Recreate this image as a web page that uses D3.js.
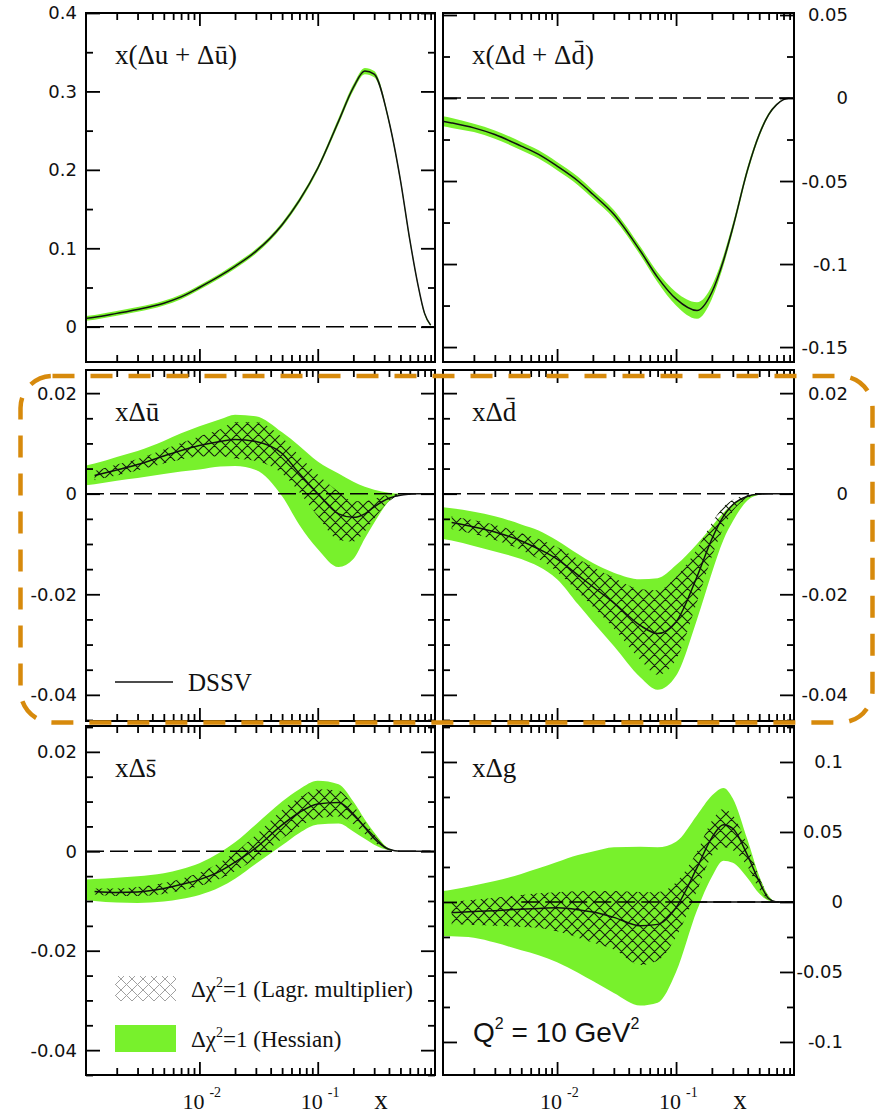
<!DOCTYPE html>
<html>
<head>
<meta charset="utf-8">
<script src="https://cdn.jsdelivr.net/npm/d3@7"></script>
<style>
  body { margin: 0; background: #fff; }
  .tick-label { font-family: "DejaVu Sans", sans-serif; font-size: 18px; fill: #111; }
  .title { font-family: "Liberation Serif", serif; font-size: 27px; fill: #111; }
  .serif { font-family: "Liberation Serif", serif; fill: #111; }
</style>
</head>
<body>
<svg id="chart" width="876" height="1116"></svg>
<script>
// x grid shared by every curve (log x)
const xDomain = [0.0011, 0.98];
const xGrid = [0.0011, 0.0013, 0.002, 0.003, 0.005, 0.007, 0.01, 0.015, 0.02, 0.03, 0.05, 0.07,
  0.1, 0.15, 0.2, 0.25, 0.3, 0.4, 0.5, 0.6, 0.7, 0.8, 0.9];

// x(Δu + Δū)
const uCenter = [0.0106, 0.012, 0.017, 0.022, 0.030, 0.038, 0.050, 0.065, 0.077, 0.096, 0.130, 0.161,
  0.202, 0.262, 0.305, 0.326, 0.322, 0.262, 0.187, 0.111, 0.055, 0.017, 0.002];
const uHessHi = [0.0136, 0.015, 0.020, 0.025, 0.033, 0.041, 0.053, 0.068, 0.080, 0.099, 0.133, 0.164,
  0.205, 0.266, 0.309, 0.330, 0.326, 0.265, 0.190, 0.114, 0.057, 0.019, 0.003];
const uHessLo = [0.0076, 0.009, 0.014, 0.019, 0.027, 0.035, 0.047, 0.062, 0.074, 0.093, 0.127, 0.158,
  0.199, 0.258, 0.301, 0.322, 0.318, 0.259, 0.184, 0.108, 0.053, 0.015, 0.001];

// x(Δd + Δd̄)
const dCenter = [-0.014, -0.015, -0.018, -0.022, -0.029, -0.034, -0.041, -0.050, -0.058, -0.070, -0.092, -0.108,
  -0.121, -0.128, -0.117, -0.098, -0.078, -0.043, -0.022, -0.010, -0.004, -0.001, 0];
const dHessHi = [-0.011, -0.012, -0.0155, -0.0195, -0.0265, -0.0315, -0.0385, -0.0475, -0.0555, -0.0675, -0.0895, -0.105,
  -0.117, -0.123, -0.113, -0.095, -0.0755, -0.041, -0.0205, -0.009, -0.0035, -0.0008, 0];
const dHessLo = [-0.017, -0.018, -0.0205, -0.0245, -0.0315, -0.0365, -0.0435, -0.0525, -0.0605, -0.0725, -0.0945, -0.111,
  -0.125, -0.133, -0.121, -0.101, -0.0805, -0.045, -0.0235, -0.011, -0.0045, -0.0012, 0];

// xΔū
const ubCenter = [null, 0.0036, 0.0047, 0.0058, 0.0075, 0.0086, 0.0096, 0.0104, 0.0108, 0.0104, 0.0080, 0.0040,
  0.0000, -0.0040, -0.0047, -0.0040, -0.0026, -0.0009, -0.0003, -0.0001, 0, 0, 0];
const ubHessHi = [0.0056, 0.0060, 0.0073, 0.0085, 0.0105, 0.0120, 0.0134, 0.0148, 0.0157, 0.0154, 0.0122, 0.0095,
  0.0064, 0.0040, 0.0024, 0.0014, 0.0008, 0.0002, 0, 0, 0, 0, 0];
const ubHessLo = [0.0017, 0.0019, 0.0026, 0.0031, 0.0039, 0.0044, 0.0048, 0.0054, 0.0055, 0.0047, -0.0005, -0.0062,
  -0.0110, -0.0146, -0.0130, -0.0089, -0.0058, -0.0015, -0.0001, 0, 0, 0, 0];
const ubLagrHi = [null, 0.0045, 0.0058, 0.0069, 0.0088, 0.0101, 0.0114, 0.0128, 0.0142, 0.0142, 0.0112, 0.0075,
  0.0038, 0.0004, -0.0015, -0.0015, -0.0010, -0.0002, 0, 0, 0, 0, 0];
const ubLagrLo = [null, 0.0027, 0.0036, 0.0046, 0.0060, 0.0068, 0.0074, 0.0074, 0.0070, 0.0065, 0.0040, 0.0003,
  -0.0045, -0.0092, -0.0095, -0.0075, -0.0050, -0.0015, -0.0003, 0, 0, 0, 0];

// xΔd̄
const dbCenter = [null, -0.0057, -0.0066, -0.0076, -0.0094, -0.0110, -0.0130, -0.0162, -0.0185, -0.0217, -0.0262, -0.0278,
  -0.0255, -0.0165, -0.0090, -0.0045, -0.0022, -0.0005, -0.0001, 0, 0, 0, 0];
const dbHessHi = [-0.0027, -0.0029, -0.0036, -0.0045, -0.0061, -0.0073, -0.0093, -0.0120, -0.0138, -0.0157, -0.0170, -0.0168,
  -0.0142, -0.0100, -0.0065, -0.0038, -0.0020, -0.0004, 0, 0, 0, 0, 0];
const dbHessLo = [-0.0090, -0.0093, -0.0104, -0.0115, -0.0130, -0.0145, -0.0170, -0.0220, -0.0255, -0.0303, -0.0365, -0.0390,
  -0.0362, -0.0250, -0.0157, -0.0092, -0.0055, -0.0013, -0.0002, 0, 0, 0, 0];
const dbLagrHi = [null, -0.0045, -0.0053, -0.0062, -0.0078, -0.0090, -0.0106, -0.0130, -0.0146, -0.0167, -0.0190, -0.0192,
  -0.0165, -0.0110, -0.0058, -0.0026, -0.0012, -0.0002, 0, 0, 0, 0, 0];
const dbLagrLo = [null, -0.0070, -0.0080, -0.0092, -0.0112, -0.0130, -0.0155, -0.0195, -0.0225, -0.0268, -0.0330, -0.0360,
  -0.0330, -0.0215, -0.0125, -0.0068, -0.0035, -0.0009, -0.0001, 0, 0, 0, 0];

// xΔs̄
const sbCenter = [null, -0.0081, -0.0083, -0.0082, -0.0075, -0.0067, -0.0057, -0.0040, -0.0022, 0.0007, 0.0053, 0.0078,
  0.0095, 0.0098, 0.0075, 0.0048, 0.0026, 0.0004, 0, 0, 0, 0, 0];
const sbHessHi = [-0.0057, -0.0056, -0.0053, -0.0050, -0.0044, -0.0036, -0.0024, -0.0002, 0.0018, 0.0054, 0.0100, 0.0125,
  0.0142, 0.0135, 0.0100, 0.0064, 0.0038, 0.0006, 0, 0, 0, 0, 0];
const sbHessLo = [-0.0098, -0.0100, -0.0103, -0.0104, -0.0101, -0.0096, -0.0088, -0.0072, -0.0055, -0.0025, 0.0012, 0.0037,
  0.0054, 0.0056, 0.0040, 0.0025, 0.0013, 0.0002, 0, 0, 0, 0, 0];
const sbLagrHi = [null, -0.0075, -0.0075, -0.0072, -0.0064, -0.0055, -0.0043, -0.0022, -0.0002, 0.0033, 0.0083, 0.0108,
  0.0125, 0.0122, 0.0092, 0.0060, 0.0034, 0.0005, 0, 0, 0, 0, 0];
const sbLagrLo = [null, -0.0087, -0.0090, -0.0090, -0.0086, -0.0079, -0.0070, -0.0055, -0.0040, -0.0015, 0.0025, 0.0050,
  0.0066, 0.0070, 0.0055, 0.0035, 0.0018, 0.0003, 0, 0, 0, 0, 0];

// xΔg
const gCenter = [null, -0.0076, -0.0068, -0.0062, -0.0052, -0.0046, -0.0042, -0.0055, -0.0072, -0.0110, -0.0170, -0.0160,
  -0.0040, 0.0245, 0.0460, 0.0552, 0.0525, 0.0330, 0.0145, 0.0025, 0, 0, 0];
const gHessHi = [0.0079, 0.0088, 0.0118, 0.0150, 0.0200, 0.0240, 0.0285, 0.0335, 0.0360, 0.0390, 0.0395, 0.0390,
  0.0430, 0.0620, 0.0760, 0.0815, 0.0740, 0.0440, 0.0185, 0.0045, 0, 0, 0];
const gHessLo = [-0.0243, -0.0245, -0.0255, -0.0290, -0.0345, -0.0380, -0.0430, -0.0505, -0.0565, -0.0650, -0.0740, -0.0720,
  -0.0500, -0.0060, 0.0180, 0.0295, 0.0280, 0.0170, 0.0060, 0.0010, 0, 0, 0];
const gLagrHi = [null, 0.0000, 0.0015, 0.0030, 0.0050, 0.0062, 0.0070, 0.0076, 0.0078, 0.0079, 0.0072, 0.0070,
  0.0140, 0.0360, 0.0580, 0.0665, 0.0620, 0.0400, 0.0180, 0.0040, 0, 0, 0];
const gLagrLo = [null, -0.0160, -0.0165, -0.0170, -0.0178, -0.0185, -0.0210, -0.0255, -0.0290, -0.0340, -0.0450, -0.0420,
  -0.0250, 0.0080, 0.0330, 0.0390, 0.0370, 0.0250, 0.0090, 0.0015, 0, 0, 0];

// y tick labels of each panel
const yTicksA = [0, 0.1, 0.2, 0.3, 0.4];
const yTicksB = [0.05, 0, -0.05, -0.1, -0.15];
const yTicksSea = [0.02, 0, -0.02, -0.04];
const yTicksG = [0.1, 0.05, 0, -0.05, -0.1];
const xLabelTicks = [0.01, 0.1];
const xLabelExp = ['-2', '-1'];

const GREEN = '#78f12c';
const ORANGE = '#d78a0c';

const cols = [[86, 435], [443, 794]];
const rows = [[13, 362], [370, 721], [726, 1075]];

const panels = [
  { col: 0, row: 0, yDomain: [-0.045, 0.4], ticks: yTicksA, minorStep: 0.05, title: 'x(\u0394u + \u0394u\u0304)',
    center: uCenter, hessHi: uHessHi, hessLo: uHessLo },
  { col: 1, row: 0, yDomain: [-0.159, 0.0512], ticks: yTicksB, minorStep: 0.025, title: 'x(\u0394d + \u0394d\u0304)',
    center: dCenter, hessHi: dHessHi, hessLo: dHessLo },
  { col: 0, row: 1, yDomain: [-0.0452, 0.0246], ticks: yTicksSea, minorStep: 0.005, title: 'x\u0394u\u0304',
    center: ubCenter, hessHi: ubHessHi, hessLo: ubHessLo, lagrHi: ubLagrHi, lagrLo: ubLagrLo },
  { col: 1, row: 1, yDomain: [-0.0452, 0.0246], ticks: yTicksSea, minorStep: 0.005, title: 'x\u0394d\u0304',
    center: dbCenter, hessHi: dbHessHi, hessLo: dbHessLo, lagrHi: dbLagrHi, lagrLo: dbLagrLo },
  { col: 0, row: 2, yDomain: [-0.045, 0.0252], ticks: yTicksSea, minorStep: 0.005, title: 'x\u0394s\u0304',
    center: sbCenter, hessHi: sbHessHi, hessLo: sbHessLo, lagrHi: sbLagrHi, lagrLo: sbLagrLo },
  { col: 1, row: 2, yDomain: [-0.1236, 0.1257], ticks: yTicksG, minorStep: 0.025, title: 'x\u0394g',
    center: gCenter, hessHi: gHessHi, hessLo: gHessLo, lagrHi: gLagrHi, lagrLo: gLagrLo, zeroFrom: 0.005, solidFrom: 0.13 }
];

const svg = d3.select('#chart');
const defs = svg.append('defs');

function addHatch(id, color, w) {
  const p = defs.append('pattern').attr('id', id)
    .attr('patternUnits', 'userSpaceOnUse').attr('width', 11).attr('height', 11);
  p.append('path')
    .attr('d', 'M0,0L11,11M-1,10L1,12M10,-1L12,1M11,0L0,11M-1,1L1,-1M10,12L12,10')
    .attr('stroke', color).attr('stroke-width', w).attr('fill', 'none');
}
addHatch('hatch', '#14200c', 1.1);
addHatch('hatchLight', '#a0a0a0', 1);

panels.forEach((p, i) => {
  const [x0, x1] = cols[p.col];
  const [y0, y1] = rows[p.row];
  const x = d3.scaleLog().domain(xDomain).range([x0, x1]);
  const y = d3.scaleLinear().domain(p.yDomain).range([y1, y0]);
  const g = svg.append('g');

  defs.append('clipPath').attr('id', 'clip' + i)
    .append('rect').attr('x', x0).attr('y', y0).attr('width', x1 - x0).attr('height', y1 - y0);
  const body = g.append('g').attr('clip-path', `url(#clip${i})`);

  const band = (hi, lo) => d3.area()
    .defined((d, j) => hi[j] != null)
    .x(d => x(d))
    .y0((d, j) => y(lo[j]))
    .y1((d, j) => y(hi[j]))
    .curve(d3.curveMonotoneX);

  body.append('path').datum(xGrid).attr('d', band(p.hessHi, p.hessLo)).attr('fill', GREEN);
  if (p.lagrHi) {
    body.append('path').datum(xGrid).attr('d', band(p.lagrHi, p.lagrLo)).attr('fill', 'url(#hatch)');
  }

  // zero line
  const zx0 = p.zeroFrom ? x(p.zeroFrom) : x0;
  body.append('line').attr('x1', zx0).attr('x2', x1).attr('y1', y(0)).attr('y2', y(0))
    .attr('stroke', '#000').attr('stroke-width', 1.6).attr('stroke-dasharray', '18,6');
  if (p.solidFrom) {
    body.append('line').attr('x1', x(p.solidFrom)).attr('x2', x1).attr('y1', y(0)).attr('y2', y(0))
      .attr('stroke', '#000').attr('stroke-width', 1.6);
  }

  body.append('path').datum(xGrid)
    .attr('d', d3.line()
      .defined((d, j) => p.center[j] != null)
      .x(d => x(d))
      .y((d, j) => y(p.center[j]))
      .curve(d3.curveMonotoneX))
    .attr('fill', 'none').attr('stroke', '#111').attr('stroke-width', 1.5);

  // ticks (all inward)
  const allX = x.ticks();
  const majorX = allX.filter(v => Math.abs(Math.log10(v) - Math.round(Math.log10(v))) < 1e-9);
  const minorX = allX.filter(v => !majorX.includes(v));
  const yMinor = d3.range(Math.ceil(p.yDomain[0] / p.minorStep), Math.floor(p.yDomain[1] / p.minorStep) + 1)
    .map(k => +(k * p.minorStep).toFixed(4))
    .filter(v => !p.ticks.some(t => Math.abs(t - v) < 1e-9));

  const tickStyle = sel => {
    sel.select('.domain').remove();
    sel.selectAll('line').attr('stroke', '#000').attr('stroke-width', 1.8);
  };
  const axisSet = [
    [d3.axisTop(x), `translate(0,${y1})`, majorX, 13, minorX, 7],
    [d3.axisBottom(x), `translate(0,${y0})`, majorX, 13, minorX, 7],
    [d3.axisRight(y), `translate(${x0},0)`, p.ticks, 14, yMinor, 7],
    [d3.axisLeft(y), `translate(${x1},0)`, p.ticks, 14, yMinor, 7]
  ];
  axisSet.forEach(([ax, tr, maj, ml, min, nl]) => {
    g.append('g').attr('transform', tr)
      .call(ax.tickValues(maj).tickSize(ml).tickSizeOuter(0).tickFormat(''))
      .call(tickStyle);
    g.append('g').attr('transform', tr)
      .call(ax.tickValues(min).tickSize(nl).tickSizeOuter(0).tickFormat(''))
      .call(tickStyle);
  });

  // frame
  g.append('rect').attr('x', x0).attr('y', y0).attr('width', x1 - x0).attr('height', y1 - y0)
    .attr('fill', 'none').attr('stroke', '#000').attr('stroke-width', 2);

  // y tick labels
  const labelX = p.col === 0 ? 77 : (p.row === 2 ? 843 : 848);
  g.selectAll('.tick-label').data(p.ticks).enter().append('text')
    .attr('class', 'tick-label')
    .attr('x', labelX).attr('y', d => y(d)).attr('dy', '0.36em')
    .attr('text-anchor', 'end')
    .text(d => String(d));

  // title
  g.append('text').attr('class', 'title')
    .attr('x', x0 + 29).attr('y', y0 + 51)
    .text(p.title);

  // x labels under the bottom row
  if (p.row === 2) {
    xLabelTicks.forEach((v, k) => {
      const t = g.append('text').attr('class', 'serif').attr('x', x(v) - 17).attr('y', 1109);
      t.append('tspan').attr('font-size', 22).text('10');
      t.append('tspan').attr('font-size', 14).attr('dx', 5).attr('dy', -12).text(xLabelExp[k]);
    });
    g.append('text').attr('class', 'serif').attr('font-size', 27)
      .attr('x', x1 - 54).attr('y', 1109).attr('text-anchor', 'middle').text('x');
  }
});

// DSSV legend (middle left panel)
svg.append('line').attr('x1', 115).attr('x2', 173).attr('y1', 682).attr('y2', 682)
  .attr('stroke', '#111').attr('stroke-width', 1.6);
svg.append('text').attr('class', 'serif').attr('font-size', 25)
  .attr('x', 188).attr('y', 691).text('DSSV');

// band legend (bottom left panel)
const legendItems = [
  { fill: 'url(#hatchLight)', y: 976, h: 25, text: '=1 (Lagr. multiplier)' },
  { fill: GREEN, y: 1025, h: 27, text: '=1 (Hessian)' }
];
legendItems.forEach(it => {
  svg.append('rect').attr('x', 115).attr('y', it.y).attr('width', 61).attr('height', it.h).attr('fill', it.fill);
  const t = svg.append('text').attr('class', 'serif').attr('font-size', 23)
    .attr('x', 191).attr('y', it.y + it.h / 2 + 8);
  t.append('tspan').text('\u0394\u03c7');
  t.append('tspan').attr('font-size', 14).attr('dy', -10).text('2');
  t.append('tspan').attr('dy', 10).text(it.text);
});

// Q² label (bottom right panel)
const q = svg.append('text').attr('x', 473).attr('y', 1042)
  .style('font-family', '"Liberation Sans", sans-serif').attr('font-size', 28).attr('fill', '#111');
q.append('tspan').text('Q');
q.append('tspan').attr('font-size', 16).attr('dy', -13).text('2');
q.append('tspan').attr('dy', 13).text(' = 10 GeV');
q.append('tspan').attr('font-size', 16).attr('dy', -13).text('2');

// orange highlight box
svg.append('rect').attr('x', 20.5).attr('y', 376).attr('width', 852).attr('height', 346.5)
  .attr('rx', 32).attr('ry', 32)
  .attr('fill', 'none').attr('stroke', ORANGE).attr('stroke-width', 4.5)
  .attr('stroke-dasharray', '22,16');
</script>
</body>
</html>
